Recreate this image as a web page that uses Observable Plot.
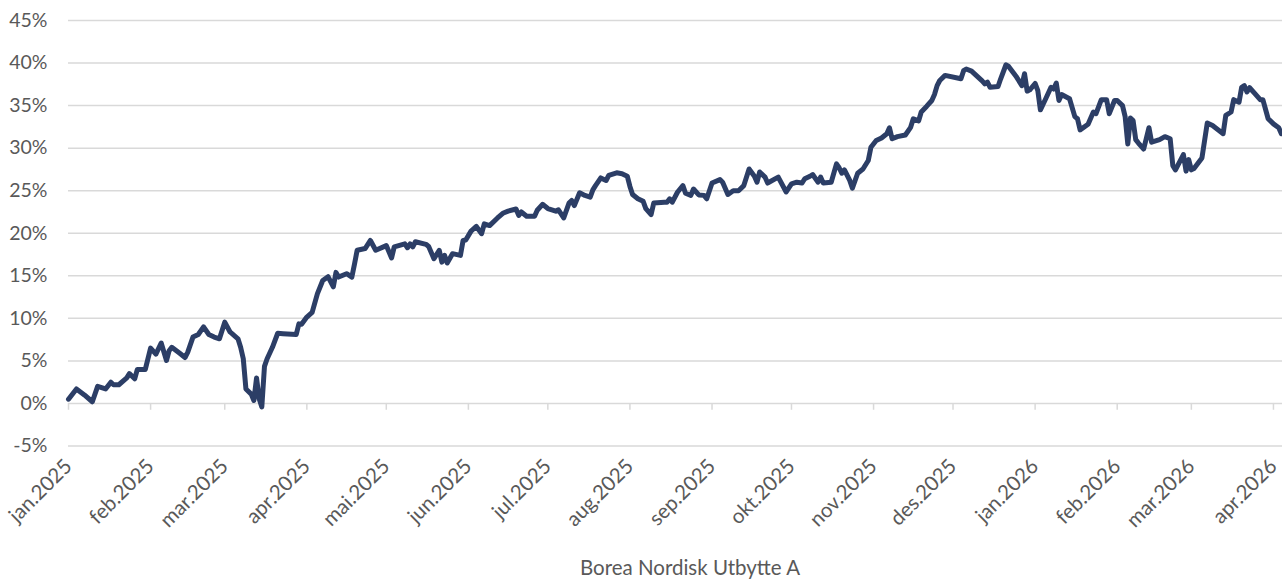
<!DOCTYPE html>
<html><head><meta charset="utf-8">
<script src="https://cdn.jsdelivr.net/npm/d3@7"></script>
<script src="https://cdn.jsdelivr.net/npm/@observablehq/plot@0.6"></script>
<style>
html,body{margin:0;padding:0;background:#fff;}
#caption{box-sizing:border-box;width:1282px;padding-left:98px;text-align:center;font-family:Lato,sans-serif;font-size:20.5px;line-height:24px;color:#595959;}
</style></head>
<body><div id="chart"></div><div id="caption"></div>
<script>
const seriesName = "Borea Nordisk Utbytte A";
const dates = [
"2025-01-01","2025-01-04","2025-01-07","2025-01-10","2025-01-12","2025-01-15","2025-01-17","2025-01-18","2025-01-20","2025-01-23","2025-01-24","2025-01-26","2025-01-27","2025-01-30",
"2025-02-01","2025-02-03","2025-02-05","2025-02-07","2025-02-08","2025-02-09","2025-02-12","2025-02-14","2025-02-15","2025-02-17","2025-02-19","2025-02-21","2025-02-23","2025-02-25","2025-02-27",
"2025-03-01","2025-03-03","2025-03-06","2025-03-07","2025-03-08","2025-03-09","2025-03-11","2025-03-12","2025-03-13","2025-03-14","2025-03-15","2025-03-16","2025-03-17","2025-03-19","2025-03-21","2025-03-23","2025-03-28","2025-03-29","2025-03-30",
"2025-04-01","2025-04-03","2025-04-05","2025-04-07","2025-04-09","2025-04-11","2025-04-12","2025-04-13","2025-04-16","2025-04-18","2025-04-19","2025-04-20","2025-04-23","2025-04-25","2025-04-27",
"2025-05-01","2025-05-03","2025-05-04","2025-05-08","2025-05-09","2025-05-10","2025-05-11","2025-05-12","2025-05-16","2025-05-17","2025-05-19","2025-05-21","2025-05-22","2025-05-23","2025-05-24","2025-05-26","2025-05-29","2025-05-30","2025-05-31",
"2025-06-02","2025-06-04","2025-06-06","2025-06-07","2025-06-09","2025-06-12","2025-06-14","2025-06-16","2025-06-19","2025-06-20","2025-06-21","2025-06-23","2025-06-26","2025-06-27","2025-06-29",
"2025-07-01","2025-07-04","2025-07-05","2025-07-07","2025-07-09","2025-07-10","2025-07-11","2025-07-13","2025-07-15","2025-07-17","2025-07-18","2025-07-19","2025-07-21","2025-07-23","2025-07-24","2025-07-27","2025-07-29","2025-07-31",
"2025-08-01","2025-08-02","2025-08-04","2025-08-06","2025-08-07","2025-08-09","2025-08-10","2025-08-14","2025-08-15","2025-08-16","2025-08-17","2025-08-19","2025-08-21","2025-08-22","2025-08-24","2025-08-25","2025-08-27","2025-08-29","2025-08-30",
"2025-09-01","2025-09-04","2025-09-05","2025-09-07","2025-09-09","2025-09-11","2025-09-13","2025-09-15","2025-09-17","2025-09-18","2025-09-19","2025-09-21","2025-09-22","2025-09-26","2025-09-29",
"2025-10-01","2025-10-03","2025-10-05","2025-10-06","2025-10-08","2025-10-09","2025-10-11","2025-10-12","2025-10-13","2025-10-16","2025-10-18","2025-10-19","2025-10-20","2025-10-21","2025-10-23","2025-10-24","2025-10-26","2025-10-28","2025-10-30","2025-10-31",
"2025-11-02","2025-11-04","2025-11-06","2025-11-07","2025-11-08","2025-11-10","2025-11-13","2025-11-15","2025-11-16","2025-11-18","2025-11-19","2025-11-21","2025-11-23","2025-11-24","2025-11-25","2025-11-26","2025-11-28",
"2025-12-04","2025-12-05","2025-12-06","2025-12-08","2025-12-12","2025-12-13","2025-12-14","2025-12-15","2025-12-18","2025-12-19","2025-12-21","2025-12-22","2025-12-25","2025-12-27","2025-12-28","2025-12-29","2025-12-30",
"2026-01-01","2026-01-02","2026-01-03","2026-01-05","2026-01-07","2026-01-08","2026-01-09","2026-01-10","2026-01-11","2026-01-14","2026-01-16","2026-01-17","2026-01-18","2026-01-21","2026-01-23","2026-01-24","2026-01-26","2026-01-28","2026-01-29","2026-01-31",
"2026-02-01","2026-02-03","2026-02-04","2026-02-05","2026-02-06","2026-02-07","2026-02-08","2026-02-09","2026-02-11","2026-02-13","2026-02-14","2026-02-17","2026-02-19","2026-02-21","2026-02-22","2026-02-23","2026-02-26","2026-02-27","2026-02-28",
"2026-03-01","2026-03-02","2026-03-05","2026-03-07","2026-03-09","2026-03-13","2026-03-14","2026-03-16","2026-03-17","2026-03-19","2026-03-20","2026-03-21","2026-03-22","2026-03-23","2026-03-25","2026-03-27","2026-03-28","2026-03-30",
"2026-04-01","2026-04-03","2026-04-04"
];
const values = [
0.5,1.7,1.0,0.2,2.0,1.7,2.5,2.2,2.2,3.0,3.5,2.9,4.0,4.0,
6.5,5.8,7.1,5.05,6.2,6.6,5.9,5.4,6.0,7.8,8.1,9.0,8.1,7.8,7.6,
9.55,8.4,7.6,6.6,5.25,1.7,1.1,0.35,3.0,0.55,-0.4,4.35,5.25,6.6,8.25,8.2,8.1,9.35,9.3,
10.15,10.7,12.9,14.45,14.9,13.7,15.4,14.85,15.25,14.85,16.4,18.0,18.2,19.15,18.0,
18.55,17.1,18.4,18.75,18.3,18.75,18.4,19.0,18.7,18.45,17.0,18.0,16.6,17.4,16.5,17.6,17.4,19.15,19.2,
20.25,20.8,19.95,21.1,20.9,21.8,22.35,22.6,22.85,22.1,22.5,22.0,22.0,22.7,23.4,
22.9,22.6,22.75,21.8,23.55,23.85,23.25,24.75,24.45,24.25,25.1,25.6,26.5,26.2,26.8,27.1,27.0,26.7,
25.5,24.55,24.05,23.75,22.9,22.2,23.55,23.65,23.65,24.05,23.65,24.85,25.6,24.7,24.45,25.2,24.5,24.45,24.05,
25.9,26.3,26.0,24.55,25.0,25.0,25.6,27.55,26.7,26.0,27.2,26.6,25.9,26.6,24.85,
25.8,26.0,25.9,26.4,26.7,26.9,26.0,26.6,25.9,26.0,28.15,27.7,27.05,27.45,26.2,25.3,27.05,27.55,28.55,30.1,
30.9,31.2,31.7,32.4,31.1,31.35,31.55,32.45,33.45,33.2,34.25,34.9,35.6,36.3,37.35,37.95,38.55,
38.15,39.1,39.3,39.05,37.9,37.55,37.75,37.15,37.25,38.15,39.8,39.6,38.35,37.35,38.75,36.7,36.85,
37.6,36.8,34.5,35.8,37.15,36.95,37.65,35.6,36.3,35.8,33.7,33.45,32.15,32.8,34.25,34.05,35.7,35.7,34.05,35.6,
35.6,35.0,33.7,30.5,33.55,33.25,31.0,30.6,29.9,32.4,30.7,31.0,31.35,31.1,27.95,27.45,29.25,27.3,28.65,
27.45,27.6,28.85,32.95,32.65,31.7,33.85,34.25,35.7,35.4,37.15,37.35,36.6,37.1,36.4,35.7,35.7,33.45,
32.85,32.4,31.7
];
const tickDates = ["2025-01-01","2025-02-01","2025-03-01","2025-04-01","2025-05-01","2025-06-01","2025-07-01","2025-08-01","2025-09-01","2025-10-01","2025-11-01","2025-12-01","2026-01-01","2026-02-01","2026-03-01","2026-04-01"];
const tickLabels = ["jan.2025","feb.2025","mar.2025","apr.2025","mai.2025","jun.2025","jul.2025","aug.2025","sep.2025","okt.2025","nov.2025","des.2025","jan.2026","feb.2026","mar.2026","apr.2026"];
const yTicks = [-5,0,5,10,15,20,25,30,35,40,45];
const xDomain = ["2025-01-01","2026-04-04T10:00:00Z"];

const data = dates.map((d, i) => ({date: new Date(d), value: values[i]}));
const ticks = tickDates.map(d => new Date(d));
const labelOf = d => tickLabels[ticks.findIndex(t => +t === +d)];

const chart = Plot.plot({
  width: 1282, height: 555,
  marginTop: 20, marginLeft: 68, marginRight: 0, marginBottom: 109.5,
  style: {fontFamily: "Lato, sans-serif", fontSize: "19.5px", color: "#595959", background: "#fff"},
  x: {type: "utc", domain: xDomain.map(d => new Date(d)), label: null},
  y: {domain: [-5, 45], label: null},
  marks: [
    Plot.gridY(yTicks, {stroke: "#d9d9d9", strokeOpacity: 1, strokeWidth: 1.5}),
    Plot.ruleX(ticks, {x: d => d, y1: 0, y2: -0.8, stroke: "#d9d9d9", strokeWidth: 1.5}),
    Plot.axisY(yTicks, {tickSize: 0, tickPadding: 21, tickFormat: d => d + "%", fill: "#595959", label: null}),
    Plot.axisX(ticks, {anchor: "bottom", tickSize: 0, tickRotate: -45, tickPadding: 17, tickFormat: labelOf, fill: "#595959", fontSize: 20.5, label: null}),
    Plot.line(data, {x: "date", y: "value", stroke: "#2C3E66", strokeWidth: 5, strokeLinejoin: "round", strokeLinecap: "round"})
  ]
});
document.getElementById("chart").appendChild(chart);
document.getElementById("caption").textContent = seriesName;
</script>
</body></html>
